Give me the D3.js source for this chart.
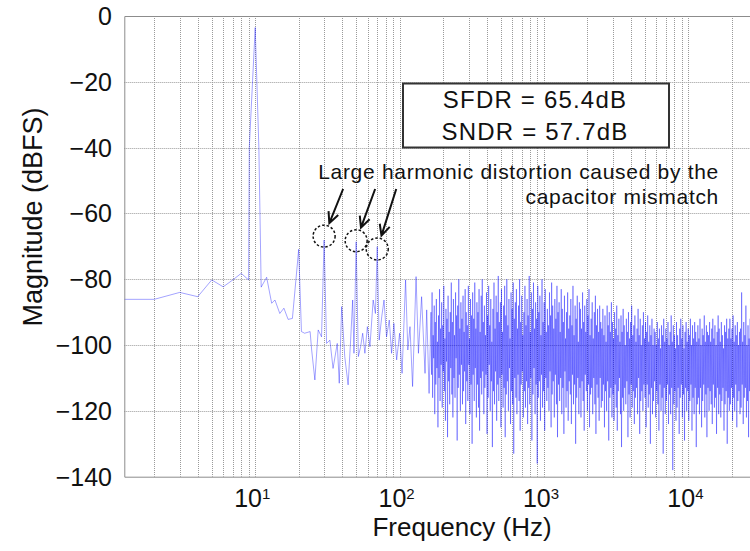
<!DOCTYPE html>
<html>
<head>
<meta charset="utf-8">
<script src="https://cdn.jsdelivr.net/npm/d3@7"></script>
<style>
  body { margin: 0; background: #fff; }
  text { font-family: "Liberation Sans", Arial, Helvetica, sans-serif; fill: #111; }
</style>
</head>
<body>
<script>
// low frequency part of the spectrum, read point by point (Hz / dBFS)
const lowFreq = [1, 2, 3, 4, 5, 6, 7, 8, 9, 9.1, 10, 10.6, 11, 12, 13, 13.7, 14.8, 15.8, 16.9, 18.1,
  20, 20.9, 22, 24, 24.6, 25.9, 27.3, 28.8, 30, 31.2, 32.9, 34.6, 37, 38.2, 39.7, 41.7, 44, 45.8, 47.3, 48.3,
  50, 51.8, 53.7, 55.5, 57.5, 59.8, 62.3, 65.6, 68, 70, 72.2, 75.2, 78, 81.2, 84.8, 88, 91.3, 95.4,
  100, 104, 110, 114, 118, 123, 130, 135, 142, 150, 154, 160]
const lowDb = [-86.1, -86.1, -84.0, -85.3, -80.2, -82.3, -80.2, -78.2, -80.2, -40, -3.5, -40, -82.4, -79.4, -87.3, -86.3, -90.4, -88.8, -92.2, -91.9,
  -70.9, -95.9, -96.4, -95.9, -101.5, -110.6, -95.4, -97.5, -68.1, -99.5, -98.5, -107.1, -99.5, -111.6, -88.3, -103.5, -112.1, -98.5, -86.3, -102.5,
  -68.6, -103.5, -100.5, -96.4, -102.5, -94.4, -100.5, -86.3, -90.4, -70.1, -98.5, -91.4, -86.3, -97.5, -92.4, -102.5, -93.4, -104.5,
  -96.4, -108.6, -80.2, -101.5, -94.4, -112.6, -79.2, -102.5, -85.3, -108.6, -89.3, -114.7]

// noise floor, readings taken at even steps along the log axis from noiseStart to noiseEnd
const noiseStart = 165
const noiseEnd = 27000
const noiseDb = [
  -90,-109,-84,-116,-97,-104,-88,-121,-93,-112,-86,-107,-99,-125,-91,-110,-83,-117,-95,-106,
  -87,-119,-94,-108,-82,-114,-98,-123,-89,-105,-92,-128,-85,-111,-96,-118,-90,-107,-81,-115,
  -93,-122,-86,-110,-97,-116,-84,-104,-91,-129,-88,-113,-80,-109,-95,-120,-87,-106,-92,-118,
  -85,-114,-96,-108,-83,-124,-90,-111,-94,-117,-82,-106,-98,-121,-86,-112,-91,-130,-84,-109,
  -92,-117,-81,-107,-95,-122,-87,-112,-90,-119,-83,-126,-96,-110,-85,-115,-80,-108,-93,-121,
  -88,-113,-97,-109,-84,-127,-91,-116,-82,-106,-94,-120,-86,-111,-99,-131,-89,-114,-81,-118,
  -95,-108,-85,-123,-90,-112,-79,-117,-93,-110,-87,-125,-83,-109,-96,-119,-88,-113,-82,-128,
  -91,-115,-80,-111,-94,-120,-86,-107,-98,-124,-84,-114,-89,-118,-81,-133,-92,-110,-87,-116,
  -83,-121,-95,-109,-88,-117,-80,-126,-93,-112,-85,-108,-97,-122,-90,-114,-82,-119,-94,-111,
  -86,-124,-91,-113,-79,-118,-96,-110,-84,-129,-89,-115,-81,-107,-95,-121,-87,-112,-92,-136,
  -82,-116,-90,-111,-85,-123,-97,-109,-80,-119,-93,-114,-87,-126,-83,-110,-96,-117,-89,-113,
  -94,-120,-84,-108,-91,-125,-81,-115,-88,-111,-95,-122,-86,-109,-92,-118,-82,-128,-90,-112,
  -87,-117,-96,-110,-83,-121,-89,-113,-93,-127,-85,-108,-98,-119,-90,-114,-84,-123,-95,-111,
  -91,-115,-86,-124,-94,-109,-82,-118,-97,-112,-88,-130,-92,-116,-85,-110,-99,-121,-87,-113,
  -89,-122,-95,-111,-84,-117,-93,-126,-88,-109,-96,-114,-86,-120,-91,-112,-83,-125,-97,-115,
  -92,-113,-87,-121,-98,-110,-90,-118,-85,-127,-94,-112,-89,-116,-96,-123,-88,-110,-93,-119,
  -95,-117,-89,-112,-97,-125,-91,-114,-99,-120,-88,-111,-94,-129,-90,-116,-96,-113,-87,-122,
  -93,-115,-98,-123,-90,-112,-95,-119,-88,-126,-97,-114,-92,-110,-99,-121,-91,-131,-96,-116,
  -89,-120,-94,-113,-100,-118,-92,-111,-96,-128,-90,-115,-98,-122,-93,-112,-88,-119,-97,-114,
  -94,-124,-91,-116,-99,-113,-95,-121,-89,-110,-97,-127,-92,-117,-100,-114,-94,-120,-90,-112,
  -98,-116,-93,-125,-96,-112,-91,-119,-99,-115,-94,-130,-97,-113,-92,-121,-100,-117,-95,-111,
  -96,-122,-100,-114,-93,-118,-98,-126,-95,-112,-101,-120,-94,-116,-97,-133,-92,-113,-99,-121,
  -95,-117,-98,-112,-93,-124,-100,-115,-96,-121,-91,-113,-99,-138,-94,-118,-97,-114,-101,-123,
  -93,-119,-97,-113,-100,-127,-95,-116,-92,-112,-98,-122,-94,-115,-101,-129,-96,-113,-93,-120,
  -99,-114,-95,-123,-97,-117,-92,-112,-100,-126,-94,-116,-98,-121,-93,-113,-96,-131,-99,-118,
  -94,-116,-98,-121,-92,-113,-100,-125,-95,-117,-97,-112,-91,-122,-99,-115,-94,-128,-96,-113,
  -97,-120,-93,-114,-99,-118,-95,-124,-92,-112,-98,-119,-94,-116,-100,-127,-96,-113,-91,-121,
  -95,-115,-99,-122,-93,-117,-97,-113,-101,-126,-94,-118,-96,-114,-92,-130,-98,-116,-95,-120,
  -92,-118,-98,-113,-95,-123,-91,-116,-99,-120,-94,-112,-97,-125,-93,-117,-100,-114,-96,-121,
  -95,-119,-84,-112,-99,-124,-93,-116,-97,-113,-88,-122,-100,-117,-94,-128,-98,-114,-92,-119
]

const yTicks = [0, -20, -40, -60, -80, -100, -120, -140]
const xLabelTicks = [10, 100, 1000, 10000]

// circled harmonics (3rd, 5th, 7th)
const harmFreq = [30, 50, 70]
const harmDb = [-66.9, -68.3, -70.8]

const statLines = ['SFDR = 65.4dB', 'SNDR = 57.7dB']
const noteLines = ['Large harmonic distortion caused by the', 'capacitor mismatch']

const width = 750
const height = 551
const plotL = 124.3, plotT = 16, plotB = 476.7
const decade = 144.4
const fMin = 1.24, fMax = 32000
const plotR = plotL + decade * Math.log10(fMax / fMin)

const svg = d3.select('body')
    .append('svg')
    .attr('width', width)
    .attr('height', height)

const x = d3.scaleLog().domain([fMin, fMax]).range([plotL, plotR])
const y = d3.scaleLinear().domain([-140, 0]).range([plotB, plotT])

svg.append('clipPath').attr('id', 'plot')
  .append('rect')
    .attr('x', plotL).attr('y', plotT)
    .attr('width', plotR - plotL).attr('height', plotB - plotT)

// grid
const grid = svg.append('g')
    .attr('stroke', '#9a9a9a')
    .attr('stroke-width', 1)
    .attr('stroke-dasharray', '1,1')
grid.selectAll('.vg')
    .data(x.ticks().filter(d => d > fMin))
    .enter()
    .append('line')
      .attr('x1', d => Math.round(x(d)) + 0.5)
      .attr('x2', d => Math.round(x(d)) + 0.5)
      .attr('y1', plotT)
      .attr('y2', plotB)
grid.selectAll('.hg')
    .data(yTicks.slice(1, -1))
    .enter()
    .append('line')
      .attr('x1', plotL)
      .attr('x2', plotR)
      .attr('y1', d => Math.round(y(d)) + 0.5)
      .attr('y2', d => Math.round(y(d)) + 0.5)

// spectrum
let points = lowFreq.map((f, i) => [f, lowDb[i]])
const ratio = noiseEnd / noiseStart
noiseDb.forEach((v, i) => {
  points.push([noiseStart * Math.pow(ratio, i / (noiseDb.length - 1)), v])
})

svg.append('g')
    .attr('clip-path', 'url(#plot)')
    .selectAll('line')
    .data(d3.pairs(points))
    .enter()
    .append('line')
      .attr('x1', d => x(d[0][0]))
      .attr('y1', d => y(d[0][1]))
      .attr('x2', d => x(d[1][0]))
      .attr('y2', d => y(d[1][1]))
      .attr('stroke', '#0000ff')
      .attr('stroke-opacity', 0.36)
      .attr('stroke-width', 1)

// frame
svg.append('path')
    .attr('d', `M${plotR},${plotT + 0.5}H${plotL + 0.5}V${plotB + 0.5}H${plotR}`)
    .attr('fill', 'none')
    .attr('stroke', '#8c8c8c')
    .attr('stroke-width', 1)

// tick labels
svg.selectAll('.ytick')
    .data(yTicks)
    .enter()
    .append('text')
      .attr('x', 112)
      .attr('y', d => y(d))
      .attr('dy', '0.36em')
      .attr('text-anchor', 'end')
      .style('font-size', '25px')
      .text(d => d === 0 ? '0' : '\u2212' + Math.abs(d))

const xt = svg.selectAll('.xtick')
    .data(xLabelTicks)
    .enter()
    .append('text')
      .attr('x', d => x(d) - 3)
      .attr('y', 507)
      .attr('text-anchor', 'middle')
      .style('font-size', '25px')
xt.append('tspan').text('10')
xt.append('tspan')
    .attr('dy', -8)
    .style('font-size', '15px')
    .text(d => Math.round(Math.log10(d)))

svg.append('text')
    .attr('x', 462)
    .attr('y', 536)
    .attr('text-anchor', 'middle')
    .style('font-size', '26px')
    .text('Frequency (Hz)')

svg.append('text')
    .attr('transform', 'translate(42,217) rotate(-90)')
    .attr('text-anchor', 'middle')
    .style('font-size', '27px')
    .text('Magnitude (dBFS)')

// SFDR / SNDR box
svg.append('rect')
    .attr('x', 403).attr('y', 83.5)
    .attr('width', 266).attr('height', 64)
    .attr('fill', '#fff')
    .attr('stroke', '#333')
    .attr('stroke-width', 2)
svg.selectAll('.stat')
    .data(statLines)
    .enter()
    .append('text')
      .attr('x', 535)
      .attr('y', (d, i) => 108 + i * 31.5)
      .attr('text-anchor', 'middle')
      .style('font-size', '24px')
      .style('letter-spacing', '1.2px')
      .text(d => d)

// annotation
svg.selectAll('.note')
    .data(noteLines)
    .enter()
    .append('text')
      .attr('x', 719)
      .attr('y', (d, i) => 178.5 + i * 25)
      .attr('text-anchor', 'end')
      .style('font-size', '21px')
      .style('letter-spacing', '0.7px')
      .text(d => d)

const ann = svg.append('g')
harmFreq.forEach((f, i) => {
  const cx = x(f), cy = y(harmDb[i])
  ann.append('circle')
      .attr('cx', cx).attr('cy', cy).attr('r', 11)
      .attr('fill', 'none')
      .attr('stroke', '#111')
      .attr('stroke-width', 1.5)
      .attr('stroke-dasharray', '2.5,2')
  const sx = cx + 19, sy = 189
  const len = Math.hypot(sx - cx, sy - cy)
  const ux = (sx - cx) / len, uy = (sy - cy) / len
  const tx = cx + ux * 14, ty = cy + uy * 14
  const head = 12, a = 0.45
  const ang = Math.atan2(uy, ux)
  const p1 = [tx + head * Math.cos(ang + a), ty + head * Math.sin(ang + a)]
  const p2 = [tx + head * Math.cos(ang - a), ty + head * Math.sin(ang - a)]
  ann.append('path')
      .attr('d', `M${sx},${sy}L${tx},${ty}M${p1}L${tx},${ty}L${p2}`)
      .attr('fill', 'none')
      .attr('stroke', '#111')
      .attr('stroke-width', 2)
})
</script>
</body>
</html>
